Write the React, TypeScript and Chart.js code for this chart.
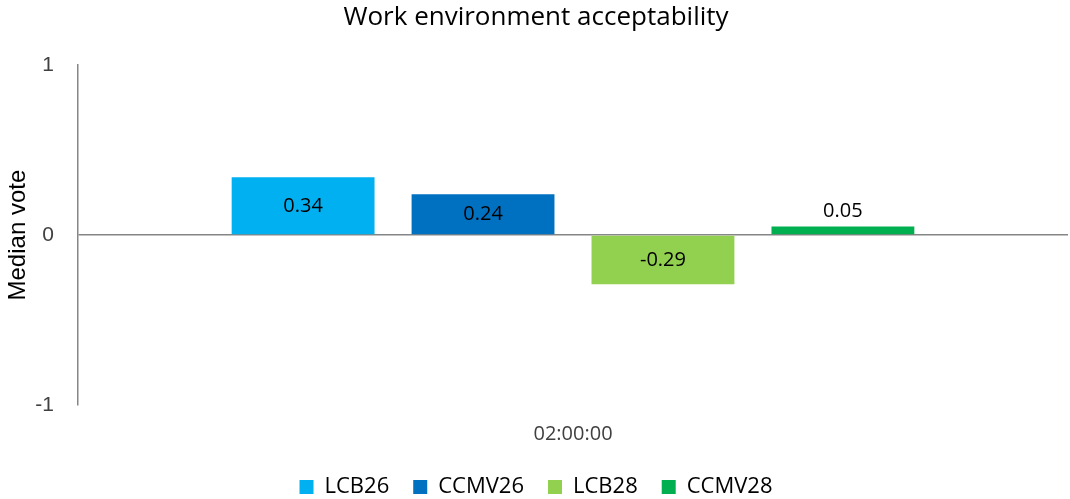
import React, { useEffect, useRef } from "react";
import { Chart, registerables } from "chart.js";

Chart.register(...registerables);

const categories = ["02:00:00"];
const seriesNames = ["LCB26", "CCMV26", "LCB28", "CCMV28"];
const seriesValues = [[0.34], [0.24], [-0.29], [0.05]];
const seriesColors = ["#00B0F0", "#0070C0", "#92D050", "#00B050"];
const yTicks = [-1, 0, 1];

const ARIAL = "'Liberation Sans', Arial, sans-serif";
const SANS = "'Open Sans', sans-serif";

const labelPlugin = {
  id: "barLabels",
  afterDatasetsDraw(chart: any) {
    const ctx = chart.ctx;
    ctx.save();
    ctx.font = "20px " + SANS;
    ctx.fillStyle = "#000";
    ctx.textAlign = "center";
    ctx.textBaseline = "middle";
    chart.data.datasets.forEach((ds: any, i: number) => {
      const meta = chart.getDatasetMeta(i);
      meta.data.forEach((bar: any, j: number) => {
        const v = ds.data[j];
        const h = Math.abs(bar.base - bar.y);
        const txt = String(v);
        let y;
        if (h > 30) y = (bar.y + bar.base) / 2;
        else y = Math.min(bar.y, bar.base) - 15;
        ctx.fillText(txt, bar.x, y);
      });
    });
    ctx.restore();
  },
};

export default function App() {
  const ref = useRef<HTMLCanvasElement>(null);
  useEffect(() => {
    let chart: any = null;
    let dead = false;
    const make = () => {
      if (dead || !ref.current) return;
      chart = new Chart(ref.current, {
        type: "bar",
        data: {
          labels: categories,
          datasets: seriesNames.map((n, i) => ({
            label: n,
            data: seriesValues[i],
            backgroundColor: seriesColors[i],
            borderWidth: 0,
            categoryPercentage: 0.727,
            barPercentage: 0.794,
          })),
        },
        options: {
          animation: false,
          responsive: false,
          maintainAspectRatio: false,
          layout: { padding: { left: 4, right: 2, top: 0, bottom: 0 } },
          plugins: {
            title: {
              display: true,
              text: "Work environment acceptability",
              color: "#000",
              font: { family: SANS, size: 26, weight: "normal" },
              padding: { top: 2, bottom: 32 },
            },
            legend: {
              position: "bottom",
              labels: {
                boxWidth: 14,
                boxHeight: 14,
                color: "#000",
                font: { family: SANS, size: 22 },
                padding: 24,
              },
            },
            tooltip: { enabled: false },
          },
          scales: {
            x: {
              grid: { display: false },
              border: { display: false },
              afterFit: (s: any) => {
                s.height = 47;
              },
              ticks: {
                color: "#404040",
                font: { family: SANS, size: 20 },
                padding: 9,
              },
            },
            y: {
              min: -1,
              max: 1,
              afterBuildTicks: (s: any) => {
                s.ticks = yTicks.map((v) => ({ value: v }));
              },
              afterFit: (s: any) => {
                s.width = 74;
              },
              grid: {
                drawTicks: false,
                color: (c: any) => (c.tick && c.tick.value === 0 ? "#868686" : "rgba(0,0,0,0)"),
                lineWidth: 1.5,
              },
              border: { display: true, color: "#868686", width: 1.5 },
              ticks: {
                color: "#404040",
                font: { family: ARIAL, size: 21 },
                padding: 24,
              },
              title: {
                display: true,
                text: "Median vote",
                color: "#000",
                font: { family: ARIAL, size: 24 },
                padding: 0,
              },
            },
          },
        },
        plugins: [labelPlugin],
      });
    };
    const fonts: any = (document as any).fonts;
    if (fonts && fonts.load) {
      Promise.all([
        fonts.load("20px 'Liberation Sans'"),
        fonts.load("20px 'Open Sans'"),
      ]).then(make, make);
    } else make();
    return () => {
      dead = true;
      if (chart) chart.destroy();
    };
  }, []);
  return (
    <div style={{ position: "fixed", left: 0, top: 0, width: 1070, height: 499, overflow: "hidden", background: "#fff" }}>
      <canvas ref={ref} width={1070} height={508} style={{ display: "block" }} />
    </div>
  );
}
